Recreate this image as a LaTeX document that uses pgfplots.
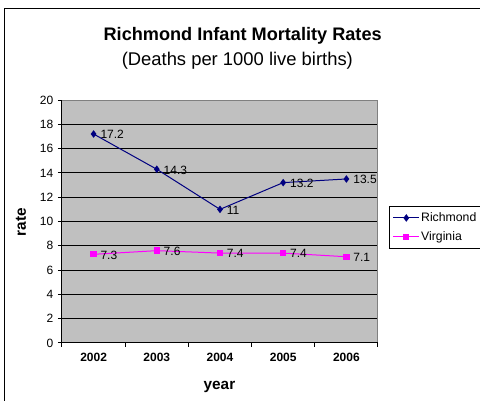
\documentclass[border=0pt]{standalone}
\usepackage{pgfplots}
\pgfplotsset{compat=1.18}
\usepackage{fontspec}
\setmainfont{Liberation Sans}
\definecolor{plotgray}{HTML}{C0C0C0}
\definecolor{rich}{HTML}{000080}
\definecolor{virg}{HTML}{FF00FF}
\begin{document}
\begin{tikzpicture}
\path[use as bounding box] (0,0) rectangle (360pt,300.75pt);
\draw[line width=0.75pt] (3.75pt,-1pt) -- (3.75pt,294pt) -- (361pt,294pt);
\node[anchor=base, font=\bfseries\fontsize{13.6}{15}\selectfont] at (182pt,270pt) {Richmond Infant Mortality Rates};
\node[anchor=base, font=\fontsize{13.8}{15}\selectfont] at (178pt,251.6pt) {(Deaths per 1000 live births)};
\node[anchor=base, font=\bfseries\fontsize{11.5}{13}\selectfont] at (164.6pt,8.25pt) {year};
\node[anchor=base, rotate=90, font=\bfseries\fontsize{11.5}{13}\selectfont] at (19.5pt,134.25pt) {rate};
\begin{axis}[
  at={(46.5pt,43.5pt)}, anchor=south west,
  scale only axis, width=237pt, height=182.25pt,
  xmin=-0.5, xmax=4.5, ymin=0, ymax=20,
  clip=false,
  /pgf/number format/assume math mode=true,
  xtick={-0.5,0.5,1.5,2.5,3.5,4.5}, xticklabels={},
  extra x ticks={0,1,2,3,4},
  extra x tick labels={2002,2003,2004,2005,2006},
  extra x tick style={major tick length=0pt},
  ytick={0,2,...,20},
  ymajorgrids, grid style={black, line width=0.75pt},
  axis background/.style={fill=plotgray},
  axis line style={draw=gray, line width=0.75pt},
  tick align=outside, tick pos=left,
  major tick length=3pt,
  tick style={black, line width=0.75pt},
  yticklabel style={font=\fontsize{9}{10}\selectfont},
  xticklabel style={font=\bfseries\fontsize{9}{10}\selectfont, anchor=base, yshift=-14pt},
  legend style={at={(1.0348,0.5638)}, anchor=north west, draw=black, fill=white,
    line width=0.75pt, font=\fontsize{9.2}{10}\selectfont, inner xsep=2.5pt, inner ysep=3pt,
    row sep=3pt, nodes={inner xsep=1pt, inner ysep=1.5pt}},
  legend cell align=left,
  legend image code/.code={\draw[mark repeat=2,mark phase=2] plot coordinates {(0pt,0pt)(9.75pt,0pt)(19.5pt,0pt)};},
  nodes near coords style={anchor=west, text=black, font=\fontsize{9}{10}\selectfont, xshift=1.5pt, yshift=-0.5pt},
]
\addplot[rich, line width=0.75pt, mark=diamond*, mark size=2.25pt, nodes near coords]
  coordinates {(0,17.2)(1,14.3)(2,11)(3,13.2)(4,13.5)};
\addplot[virg, line width=0.75pt, mark=square*, mark size=2pt, nodes near coords]
  coordinates {(0,7.3)(1,7.6)(2,7.4)(3,7.4)(4,7.1)};
\legend{Richmond,Virginia}
\draw[black, line width=0.75pt] (rel axis cs:0,1) -- (rel axis cs:0,0) -- (rel axis cs:1,0);
\end{axis}
\end{tikzpicture}
\end{document}
